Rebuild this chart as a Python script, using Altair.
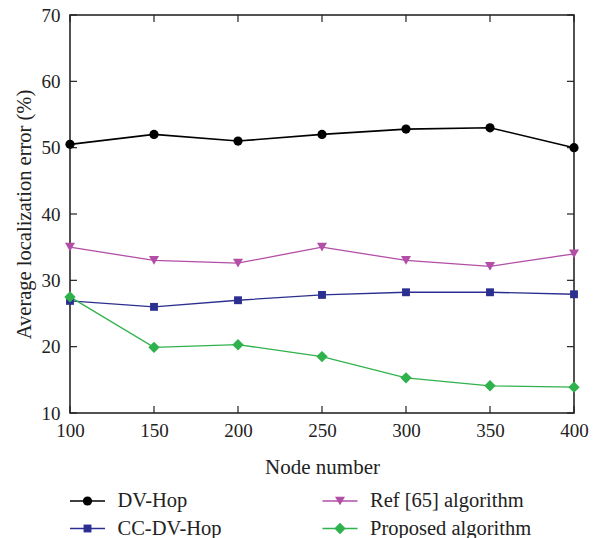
import altair as alt
import pandas as pd

# Localization error (%) by number of nodes for four DV-Hop variants
nodes = [100, 150, 200, 250, 300, 350, 400]
dv_hop = [50.5, 52.0, 51.0, 52.0, 52.8, 53.0, 50.0]
cc_dv_hop = [26.9, 26.0, 27.0, 27.8, 28.2, 28.2, 27.9]
ref65 = [35.0, 33.0, 32.6, 35.0, 33.0, 32.1, 34.0]
proposed = [27.5, 19.9, 20.3, 18.5, 15.3, 14.1, 13.9]

series_names = ["DV-Hop", "CC-DV-Hop", "Ref [65] algorithm", "Proposed algorithm"]
series_colors = ["#000000", "#2b2f8f", "#b24ea6", "#2fb24c"]
series_shapes = ["circle", "square", "triangle-down", "diamond"]
series_sizes = [85, 62, 100, 130]
series_widths = [1.6, 1.3, 1.3, 1.3]

x_ticks = nodes
y_ticks = [10, 20, 30, 40, 50, 60, 70]

# legend placement: column / row slot of each entry
legend_col = [0, 0, 1, 1]
legend_row = [0, 1, 0, 1]

FONT = "Times New Roman, Liberation Serif, DejaVu Serif, serif"
W, H = 504, 398
TICK = 7
INK = "#222222"

rows = []
for name, vals in zip(series_names, [dv_hop, cc_dv_hop, ref65, proposed]):
    for n, v in zip(nodes, vals):
        rows.append({"series": name, "nodes": n, "error": v})
df = pd.DataFrame(rows)

x_scale = alt.Scale(domain=[100, 400], nice=False, zero=False)
y_scale = alt.Scale(domain=[10, 70], nice=False, zero=False)

x_axis = alt.Axis(values=x_ticks, title="Node number", ticks=False,
                  domain=False, grid=False, labelFont=FONT,
                  labelFontSize=19, labelColor=INK,
                  labelPadding=8, labelFlush=False,
                  titleFont=FONT, titleFontSize=21,
                  titleFontWeight="normal", titleColor=INK,
                  titleY=60, titleBaseline="alphabetic")
y_axis = alt.Axis(values=y_ticks, title="Average localization error (%)",
                  ticks=False, domain=False, grid=False,
                  labelFont=FONT, labelFontSize=19,
                  labelColor=INK, labelPadding=10,
                  titleFont=FONT, titleFontSize=20.5,
                  titleFontWeight="normal", titleColor=INK,
                  titleAngle=270, titleX=-46, titleY=H / 2,
                  titleAlign="center", titleBaseline="middle")


def ex(field):
    return alt.X(field, scale=x_scale, axis=x_axis, title="Node number")


def ey(field):
    return alt.Y(field, scale=y_scale, axis=y_axis,
                 title="Average localization error (%)")


base = alt.Chart(df)

# one line layer and one marker layer per series
line_layers, point_layers = [], []
for i, name in enumerate(series_names):
    sub = base.transform_filter(alt.datum.series == name)
    line_layers.append(
        sub.mark_line(color=series_colors[i], strokeWidth=series_widths[i])
        .encode(x=ex("nodes:Q"), y=ey("error:Q"), order="nodes:Q"))
    point_layers.append(
        sub.mark_point(filled=True, opacity=1, color=series_colors[i],
                       shape=series_shapes[i], size=series_sizes[i])
        .encode(x=ex("nodes:Q"), y=ey("error:Q")))

# inward ticks on all four sides of the frame
xt = alt.Chart(pd.DataFrame({"nodes": x_ticks}))
yt = alt.Chart(pd.DataFrame({"error": y_ticks}))
ticks_bottom = xt.mark_rule(color=INK, strokeWidth=1.2).encode(
    x=ex("nodes:Q"), y=alt.value(H), y2=alt.value(H - TICK))
ticks_top = xt.mark_rule(color=INK, strokeWidth=1.2).encode(
    x=ex("nodes:Q"), y=alt.value(0), y2=alt.value(TICK))
ticks_left = yt.mark_rule(color=INK, strokeWidth=1.2).encode(
    y=ey("error:Q"), x=alt.value(0), x2=alt.value(TICK))
ticks_right = yt.mark_rule(color=INK, strokeWidth=1.2).encode(
    y=ey("error:Q"), x=alt.value(W), x2=alt.value(W - TICK))

main = alt.layer(*line_layers, ticks_bottom, ticks_top, ticks_left, ticks_right,
                 *point_layers)

# legend below the plot, two columns
leg_df = pd.DataFrame({"series": series_names, "col": legend_col, "row": legend_row})
leg_x = alt.X("col:Q", scale=alt.Scale(domain=[0, 1], range=[17.5, 270]), axis=None)
leg_y = alt.Y("row:Q", scale=alt.Scale(domain=[0, 1], range=[486, 513.5]), axis=None)
leg_base = alt.Chart(leg_df)
leg_layers = []
for i, name in enumerate(series_names):
    sub = leg_base.transform_filter(alt.datum.series == name)
    leg_layers.append(
        sub.mark_tick(orient="horizontal", size=35, thickness=series_widths[i],
                      opacity=1, color=series_colors[i])
        .encode(x=leg_x, y=leg_y))
    leg_layers.append(
        sub.mark_point(filled=True, opacity=1, color=series_colors[i],
                       shape=series_shapes[i], size=series_sizes[i])
        .encode(x=leg_x, y=leg_y))
leg_text = leg_base.mark_text(align="left", baseline="middle", dx=30, font=FONT,
                              fontSize=20.5, color=INK).encode(
    x=leg_x, y=leg_y, text="series:N")
legend = alt.layer(*leg_layers, leg_text)

chart = alt.layer(main, legend).resolve_scale(
    x="independent", y="independent"
).properties(
    width=W, height=H,
    autosize=alt.AutoSizeParams(type="none"),
    padding={"left": 70, "top": 15, "right": 602 - 70 - W, "bottom": 538 - 15 - H},
    background="white",
).configure_view(stroke="#1a1a1a", strokeWidth=1.5)

chart.save("out.html", embed_options={"renderer": "svg", "actions": False})
